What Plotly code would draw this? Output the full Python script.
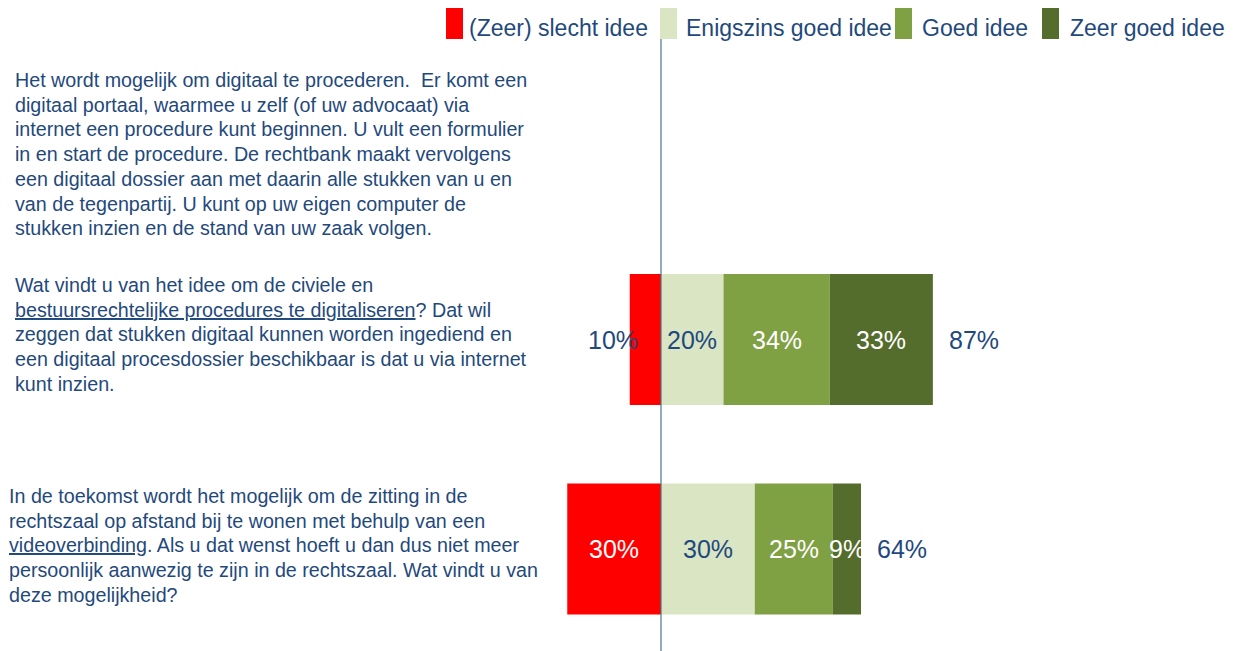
import plotly.graph_objects as go

# ---------------- data ----------------
questions = ["Digitaal procederen", "Zitting op afstand"]
series_names = ["(Zeer) slecht idee", "Enigszins goed idee", "Goed idee", "Zeer goed idee"]
slecht = [10, 30]
enigszins = [20, 30]
goed = [34, 25]
zeer_goed = [33, 9]
totaal = [87, 64]

question_texts = [
    [
        "Het wordt mogelijk om digitaal te procederen.  Er komt een",
        "digitaal portaal, waarmee u zelf (of uw advocaat) via",
        "internet een procedure kunt beginnen. U vult een formulier",
        "in en start de procedure. De rechtbank maakt vervolgens",
        "een digitaal dossier aan met daarin alle stukken van u en",
        "van de tegenpartij. U kunt op uw eigen computer de",
        "stukken inzien en de stand van uw zaak volgen.",
    ],
    [
        "Wat vindt u van het idee om de civiele en",
        "<span style='text-decoration:underline'>bestuursrechtelijke procedures te digitaliseren</span>? Dat wil",
        "zeggen dat stukken digitaal kunnen worden ingediend en",
        "een digitaal procesdossier beschikbaar is dat u via internet",
        "kunt inzien.",
    ],
    [
        "In de toekomst wordt het mogelijk om de zitting in de",
        "rechtszaal op afstand bij te wonen met behulp van een",
        "<span style='text-decoration:underline'>videoverbinding</span>. Als u dat wenst hoeft u dan dus niet meer",
        "persoonlijk aanwezig te zijn in de rechtszaal. Wat vindt u van",
        "deze mogelijkheid?",
    ],
]

# ---------------- style ----------------
PAGE_W, PAGE_H = 1243, 651
OFF = 8  # browser default body margin
W, H = PAGE_W - OFF, PAGE_H - OFF
colors = ["#FF0000", "#D9E5C3", "#7FA043", "#546C2C"]
label_colors = ["#FFFFFF", "#1F497D", "#FFFFFF", "#FFFFFF"]
text_blue = "#1F497D"
font_family = "Liberation Sans, Arial, sans-serif"


def px2paper_x(px):
    return (px - OFF) / W


def py2paper_y(py):
    return 1 - (py - OFF) / H


px_per_pct = 3.125
zero_px = 661 - OFF
x_range = [-zero_px / px_per_pct, (W - zero_px) / px_per_pct]
cat_gap_px = 209.5
first_center_px = 339.5 - OFF
y_range = [(len(questions) - 1) + (H - first_center_px - cat_gap_px * (len(questions) - 1)) / cat_gap_px,
           -first_center_px / cat_gap_px]
bar_width = 131 / cat_gap_px

fig = go.Figure()
series_vals = [slecht, enigszins, goed, zeer_goed]
for i, (name, vals) in enumerate(zip(series_names, series_vals)):
    xv = [-v for v in vals] if i == 0 else vals
    fig.add_trace(go.Bar(
        y=questions, x=xv, name=name, orientation="h",
        marker=dict(color=colors[i], line=dict(width=0)),
        width=bar_width, showlegend=False, hoverinfo="x+name",
    ))

annotations = []
# segment labels
for q_i, q in enumerate(questions):
    v = slecht[q_i]
    if v * px_per_pct >= 50:
        annotations.append(dict(x=-v / 2, y=q, text=f"{v}%", showarrow=False,
                                font=dict(size=25, color=label_colors[0], family=font_family)))
    else:
        annotations.append(dict(x=-v, y=q, text=f"{v}%", showarrow=False, xanchor="right", xshift=10,
                                font=dict(size=25, color=text_blue, family=font_family)))
    cum = 0
    for s_i, vals in enumerate(series_vals[1:], start=1):
        v = vals[q_i]
        annotations.append(dict(x=cum + v / 2, y=q, text=f"{v}%", showarrow=False,
                                font=dict(size=25, color=label_colors[s_i], family=font_family)))
        cum += v
    annotations.append(dict(x=cum, y=q, text=f"{totaal[q_i]}%", showarrow=False, xanchor="center",
                            xshift=41, font=dict(size=25, color=text_blue, family=font_family)))

# question texts (left side)
block_starts = [80, 285, 496]
block_left = [13, 13, 7]
line_gap = 24.7
for b_i, lines in enumerate(question_texts):
    for l_i, line in enumerate(lines):
        py = block_starts[b_i] + l_i * line_gap
        annotations.append(dict(xref="paper", yref="paper", x=px2paper_x(block_left[b_i]), y=py2paper_y(py),
                                xanchor="left", yanchor="middle", text=line, showarrow=False,
                                font=dict(size=19.7, color=text_blue, family=font_family)))

# manual legend
legend_box_left = [446, 660, 895, 1042]
legend_text_left = [467, 684, 920, 1068]
shapes = []
for i, name in enumerate(series_names):
    shapes.append(dict(type="rect", xref="paper", yref="paper",
                       x0=px2paper_x(legend_box_left[i]), x1=px2paper_x(legend_box_left[i] + 17),
                       y0=py2paper_y(39), y1=py2paper_y(8), fillcolor=colors[i], line=dict(width=0)))
    annotations.append(dict(xref="paper", yref="paper", x=px2paper_x(legend_text_left[i]), y=py2paper_y(28),
                            xanchor="left", yanchor="middle", text=name, showarrow=False,
                            font=dict(size=23, color=text_blue, family=font_family)))

# zero line
shapes.append(dict(type="line", xref="x", yref="paper", x0=0, x1=0, y0=0, y1=py2paper_y(39),
                   line=dict(color="#4B7689", width=1.2)))

fig.update_layout(
    width=W, height=H,
    margin=dict(l=0, r=0, t=0, b=0),
    barmode="relative",
    paper_bgcolor="white", plot_bgcolor="white",
    xaxis=dict(range=x_range, visible=False, fixedrange=True),
    yaxis=dict(range=y_range, visible=False, type="category", fixedrange=True),
    annotations=annotations, shapes=shapes,
    showlegend=False,
)

fig.write_html("out.html")
